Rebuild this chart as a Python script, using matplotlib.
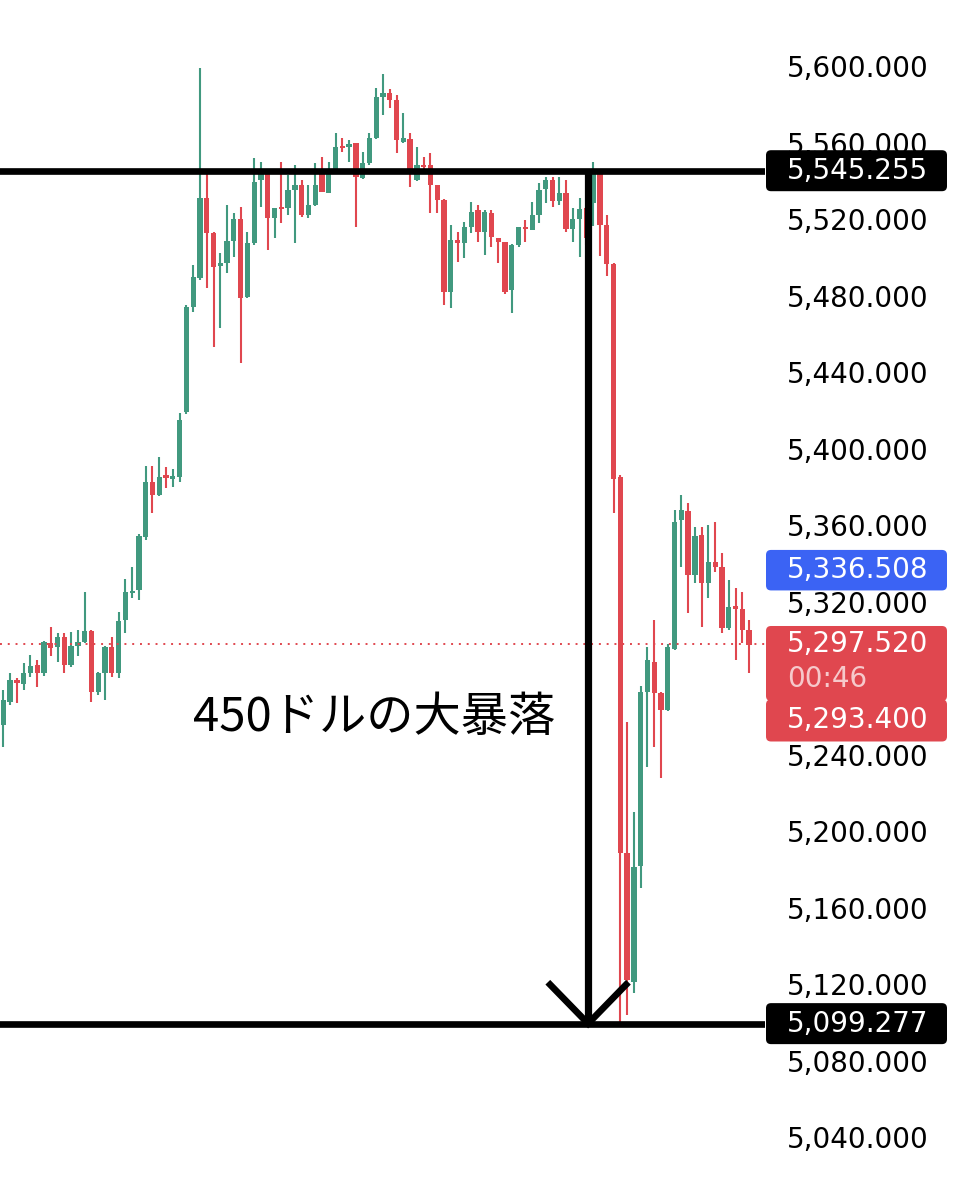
"""Gold 1-min chart: 450ドルの大暴落 (candles + level lines + price badges)."""
import numpy as np
import matplotlib
matplotlib.use('Agg')
import matplotlib.pyplot as plt
import matplotlib.transforms as mtransforms
from matplotlib.patches import FancyBboxPatch

# ---- data ----
opens = [5255.4, 5267.4, 5279.0, 5276.8, 5282.6, 5286.8, 5282.6, 5298.3, 5296.2, 5301.4,
         5286.8, 5296.7, 5298.8, 5304.6, 5272.6, 5282.6, 5296.2, 5282.6, 5310.3, 5324.4,
         5326.0, 5353.7, 5382.5, 5375.7, 5386.1, 5384.0, 5385.1, 5419.1, 5474.0, 5489.1,
         5531.0, 5512.7, 5495.4, 5497.0, 5508.5, 5520.0, 5479.2, 5507.4, 5540.4, 5544.1,
         5520.5, 5526.3, 5525.7, 5535.2, 5537.8, 5522.1, 5527.3, 5544.1, 5533.6, 5544.1,
         5557.6, 5557.6, 5559.7, 5541.4, 5549.3, 5562.3, 5583.8, 5585.9, 5582.2, 5560.2,
         5561.8, 5540.4, 5548.2, 5548.2, 5537.8, 5530.0, 5481.8, 5509.0, 5507.4, 5515.8,
         5524.7, 5513.2, 5523.1, 5510.1, 5508.0, 5482.9, 5506.4, 5515.8, 5514.2, 5522.1,
         5535.7, 5540.4, 5529.4, 5533.6, 5514.8, 5520.0, 5525.7, 5528.4, 5544.1, 5516.9,
         5496.5, 5385.1, 5188.5, 5121.0, 5181.7, 5272.6, 5288.4, 5272.1, 5263.2, 5295.2,
         5362.6, 5367.3, 5333.8, 5354.7, 5329.7, 5340.6, 5338.0, 5306.1, 5317.6, 5316.1,
         5305.1]
highs = [5273.7, 5282.6, 5280.0, 5287.8, 5292.0, 5289.4, 5299.3, 5306.6, 5303.5, 5303.5,
         5304.0, 5305.1, 5325.0, 5305.0, 5283.0, 5296.7, 5301.4, 5314.5, 5331.7, 5338.0,
         5355.3, 5390.8, 5390.8, 5395.5, 5390.3, 5389.3, 5418.5, 5475.0, 5496.0, 5599.0,
         5544.1, 5513.0, 5502.2, 5527.3, 5523.1, 5526.3, 5513.2, 5551.9, 5549.8, 5544.5,
         5526.0, 5549.8, 5543.0, 5548.2, 5540.4, 5537.8, 5549.3, 5552.4, 5549.8, 5565.0,
         5562.3, 5561.3, 5560.0, 5555.0, 5565.0, 5588.5, 5595.8, 5588.0, 5584.8, 5575.4,
         5565.0, 5557.6, 5552.4, 5554.5, 5538.0, 5530.2, 5516.9, 5513.2, 5518.4, 5528.9,
         5527.3, 5524.7, 5524.7, 5510.3, 5508.2, 5506.8, 5516.0, 5519.5, 5528.9, 5538.8,
         5541.9, 5541.9, 5541.9, 5540.4, 5525.7, 5531.0, 5526.3, 5549.8, 5544.5, 5522.1,
         5497.0, 5386.0, 5257.0, 5209.9, 5275.8, 5296.2, 5310.3, 5272.5, 5297.8, 5367.8,
         5375.7, 5371.5, 5358.9, 5358.9, 5360.0, 5361.5, 5345.3, 5331.2, 5327.1, 5325.0,
         5310.3]
lows = [5243.9, 5265.9, 5266.9, 5273.7, 5280.5, 5275.3, 5281.0, 5291.5, 5288.4, 5282.6,
        5285.7, 5291.5, 5298.3, 5267.4, 5271.1, 5268.5, 5280.5, 5280.0, 5303.5, 5321.8,
        5320.8, 5352.1, 5366.3, 5375.0, 5379.3, 5379.9, 5382.5, 5418.0, 5471.4, 5488.1,
        5483.9, 5453.1, 5463.0, 5491.8, 5500.1, 5444.7, 5478.7, 5506.4, 5526.3, 5503.8,
        5510.1, 5517.9, 5522.1, 5507.4, 5521.0, 5520.5, 5527.0, 5534.0, 5533.5, 5544.0,
        5555.0, 5549.8, 5515.8, 5541.0, 5548.2, 5562.0, 5574.4, 5578.0, 5554.5, 5560.0,
        5536.7, 5540.0, 5545.6, 5523.1, 5523.1, 5475.0, 5473.5, 5497.5, 5499.6, 5512.7,
        5508.0, 5501.2, 5505.3, 5497.0, 5481.0, 5470.8, 5505.3, 5508.0, 5514.0, 5517.9,
        5528.4, 5526.3, 5527.3, 5513.2, 5508.0, 5500.1, 5506.4, 5516.3, 5500.6, 5490.2,
        5366.3, 5099.3, 5103.8, 5115.3, 5170.2, 5233.4, 5243.9, 5227.7, 5262.8, 5294.5,
        5338.0, 5314.0, 5329.7, 5306.6, 5321.8, 5335.4, 5303.5, 5305.1, 5289.4, 5298.3,
        5282.6]
closes = [5268.5, 5279.0, 5277.4, 5282.6, 5286.3, 5282.6, 5298.8, 5295.7, 5301.4, 5286.8,
          5296.7, 5298.8, 5304.6, 5272.6, 5282.6, 5296.2, 5282.6, 5309.8, 5325.0, 5325.5,
          5354.2, 5382.5, 5375.7, 5385.1, 5384.6, 5385.6, 5414.9, 5474.0, 5489.7, 5531.0,
          5512.7, 5494.9, 5497.0, 5508.5, 5520.0, 5478.7, 5507.4, 5539.3, 5544.1, 5520.5,
          5525.7, 5525.2, 5535.2, 5537.8, 5522.1, 5527.3, 5537.8, 5534.1, 5544.1, 5557.6,
          5557.1, 5559.2, 5542.0, 5549.3, 5562.3, 5583.8, 5585.9, 5582.2, 5561.3, 5562.3,
          5545.6, 5548.2, 5547.2, 5537.8, 5530.0, 5481.8, 5509.0, 5507.4, 5515.8, 5523.6,
          5513.2, 5523.6, 5510.6, 5508.0, 5481.8, 5506.4, 5515.8, 5514.8, 5522.1, 5535.2,
          5540.4, 5529.4, 5533.6, 5514.8, 5520.0, 5525.2, 5510.1, 5544.1, 5516.9, 5496.5,
          5384.0, 5188.5, 5122.1, 5181.2, 5272.6, 5289.4, 5272.1, 5263.2, 5296.2, 5361.6,
          5367.8, 5333.8, 5354.2, 5329.7, 5340.6, 5338.0, 5306.1, 5317.1, 5316.1, 5305.1,
          5297.5]

level_high = 5545.255
level_low = 5099.277
last_price = 5297.520
blue_price = 5336.508
bid_price = 5293.400
countdown = '00:46'
title_text = '450ドルの大暴落'
yticks = np.arange(5040, 5601, 40)
hidden_ticks = [5280]   # fully covered by the price badge

GREEN = '#41997f'
RED = '#e0474f'

# ---- figure ----
fig = plt.figure(figsize=(9.6, 12), dpi=100)
ax = fig.add_axes([0, 0, 765 / 960, 1])
ax.set_xlim(-0.49, 112.34)
ax.set_ylim(5007.06, 5634.51)
for s in ax.spines.values():
    s.set_visible(False)
ax.set_xticks([])
ax.set_yticks(yticks)
ax.set_yticklabels(['' if v in hidden_ticks else f'{v:,.3f}' for v in yticks])
ax.yaxis.tick_right()
ax.tick_params(axis='y', length=0, pad=15.8, labelsize=20, labelcolor='black')

x = np.arange(len(opens))
o = np.array(opens); h = np.array(highs); l = np.array(lows); c = np.array(closes)
colors = np.where(c >= o, GREEN, RED)
ax.vlines(x, l, h, colors=colors, lw=1.5, zorder=2)
body_lo = np.minimum(o, c)
body_h = np.maximum(np.abs(c - o), 0.9)
ax.bar(x, body_h, 0.78, bottom=body_lo, color=colors, linewidth=0, zorder=3)

# levels
ax.axhline(level_high, color='black', lw=4.8, zorder=5)
ax.axhline(level_low, color='black', lw=4.8, zorder=5)
ax.axhline(last_price, color=RED, lw=1.4, ls=(0, (1, 3)), zorder=4)

# drop arrow
arrow_x = 86.25
head_dx, head_dy = 5.6, 20.4
ax.plot([arrow_x, arrow_x], [level_high, level_low], color='black', lw=5.2,
        solid_capstyle='butt', zorder=6)
ax.plot([arrow_x - head_dx, arrow_x, arrow_x + head_dx],
        [level_low + head_dy, level_low, level_low + head_dy],
        color='black', lw=4.8, solid_joinstyle='miter', zorder=6)

ax.text(374 / 765, 1 - 718 / 1200, title_text, transform=ax.transAxes,
        ha='center', va='center', fontsize=34, color='black',
        family=['Noto Sans CJK JP', 'DejaVu Sans'])

# price badges on the scale (display pixels)
ident = mtransforms.IdentityTransform()


def ypix(p):
    return ax.transData.transform((0, p))[1]


def badge(yc, top, bot, color):
    fig.add_artist(FancyBboxPatch((766, yc - bot), 181, top + bot,
                                  boxstyle='round,pad=0,rounding_size=5',
                                  fc=color, ec='none', transform=ident, zorder=10))


def btext(yc, s, color='white'):
    fig.text(787, yc, s, transform=ident, ha='left', va='center', fontsize=20,
             color=color, zorder=11)


yh = ypix(level_high)
badge(yh, 20.5, 20.5, 'black'); btext(yh, f'{level_high:,.3f}')
yl = ypix(level_low)
badge(yl, 20.5, 20.5, 'black'); btext(yl, f'{level_low:,.3f}')
yb = ypix(blue_price)
badge(yb, 20, 20.5, '#3b63f4'); btext(yb, f'{blue_price:,.3f}')
yp = ypix(last_price)
badge(yp, 18.5, 56.5, RED)
btext(yp, f'{last_price:,.3f}')
btext(yp - 35, countdown, '#f6c9cb')
badge(yp - 76, 21, 21, RED)
btext(yp - 76, f'{bid_price:,.3f}')

fig.savefig('out.png', dpi=100, facecolor='white')
